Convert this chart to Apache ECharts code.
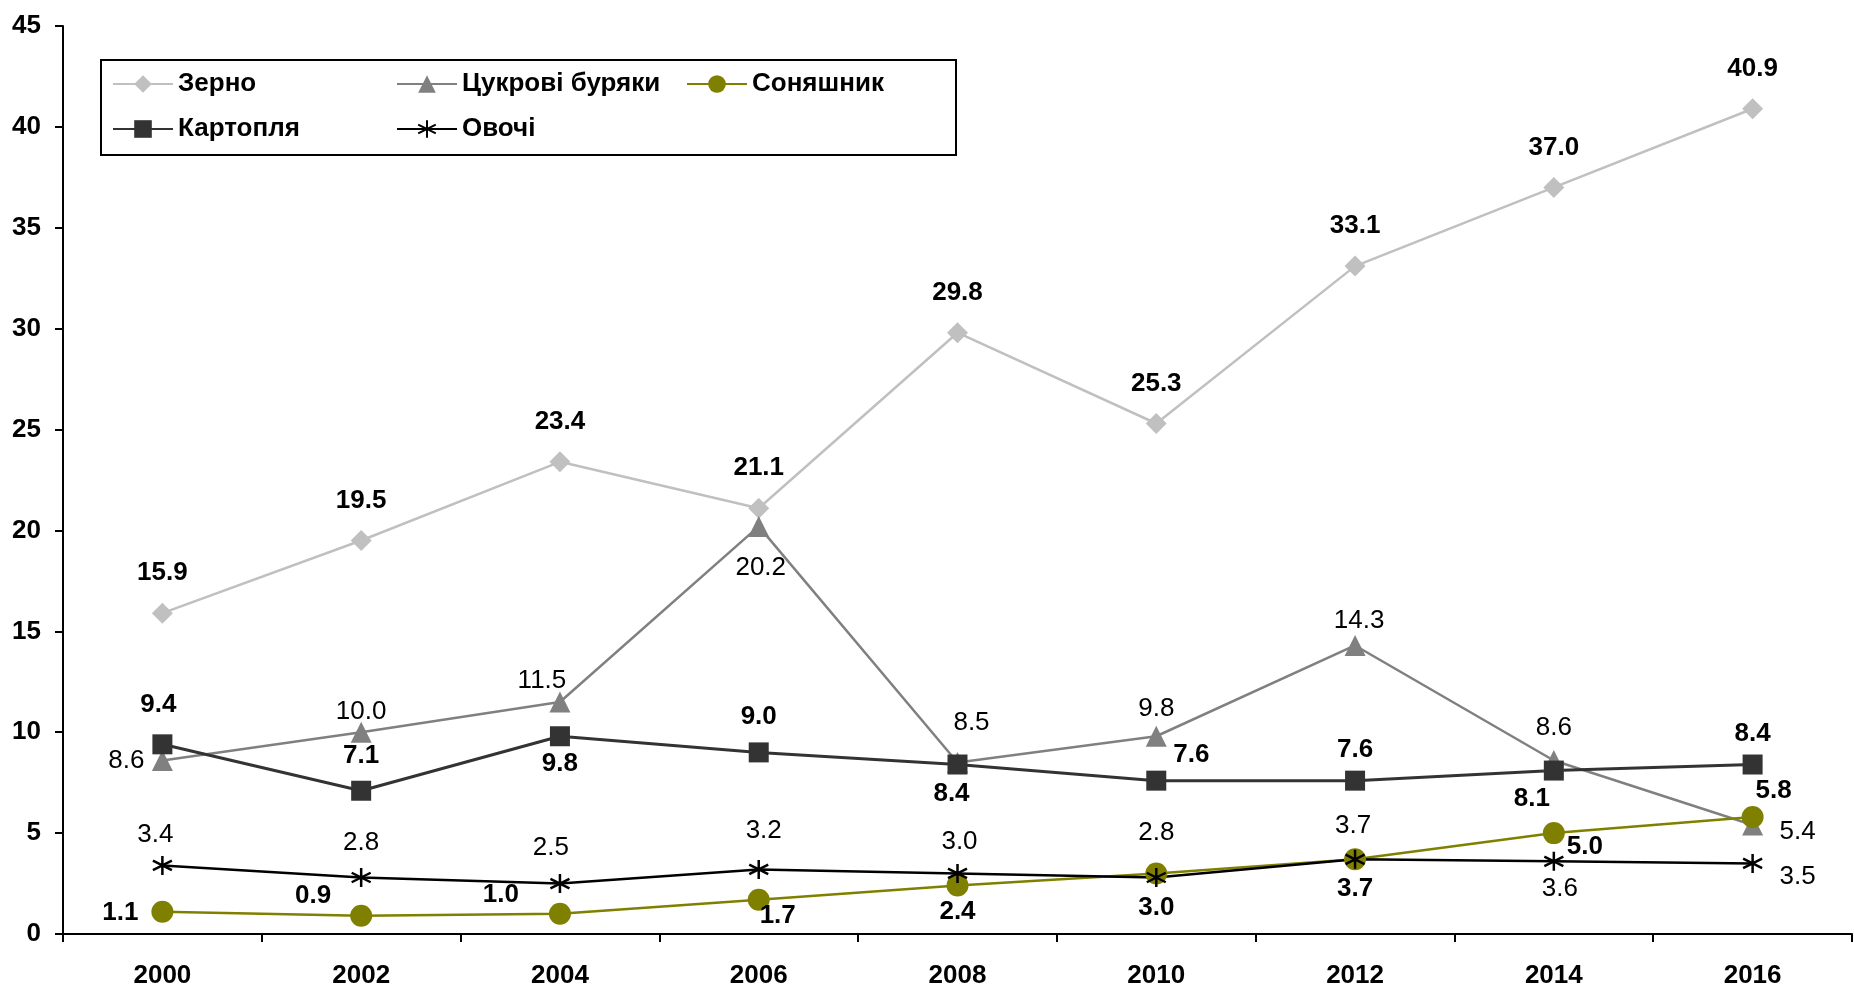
<!DOCTYPE html>
<html>
<head>
<meta charset="utf-8">
<script src="https://cdn.jsdelivr.net/npm/echarts@6/dist/echarts.min.js"></script>
<style>
html,body{margin:0;padding:0;background:#fff;}
#chart{width:1854px;height:989px;}
</style>
</head>
<body>
<div id="chart"></div>
<script>
// ---- data ----
const years = ['2000','2002','2004','2006','2008','2010','2012','2014','2016'];
const zerno = [15.9, 19.5, 23.4, 21.1, 29.8, 25.3, 33.1, 37.0, 40.9];
const buryaky = [8.6, 10.0, 11.5, 20.2, 8.5, 9.8, 14.3, 8.6, 5.4];
const sonyashnyk = [1.1, 0.9, 1.0, 1.7, 2.4, 3.0, 3.7, 5.0, 5.8];
const kartoplya = [9.4, 7.1, 9.8, 9.0, 8.4, 7.6, 7.6, 8.1, 8.4];
const ovochi = [3.4, 2.8, 2.5, 3.2, 3.0, 2.8, 3.7, 3.6, 3.5];
const names = ['Зерно', 'Цукрові буряки', 'Соняшник', 'Картопля', 'Овочі'];

// ---- label placement (styling) ----
const offZerno = [[0,-40],[0,-40],[0,-40],[0,-40],[0,-40],[0,-40],[0,-40],[0,-40],[0,-40]];
const offBur = [[-36,0],[0,-20],[-18,-21],[2,41],[14,-40],[0,-27],[4,-25],[0,-33],[45,7]];
const offSon = [[-42,1],[-48,-20],[-59,-19],[19,16],[0,26],[0,34],[0,29],[31,14],[21,-26]];
const offKar = [[-4,-40],[0,-35],[0,28],[0,-36],[-6,29],[35,-26],[0,-31],[-22,28],[0,-31]];
const offOvo = [[-7,-31],[0,-35],[-9,-36],[5,-39],[2,-32],[0,-45],[-2,-34],[6,27],[45,13]];

const FONT = 'Liberation Sans, Arial, sans-serif';
const FS = 26;
const asterisk = 'path://M5,0 L5,10 M0.7,2.5 L9.3,7.5 M0.7,7.5 L9.3,2.5';

function mk(vals, offs){
  return vals.map((v,i)=>({value:v, label:{offset:offs[i]}}));
}
function series(name, vals, offs, color, symbol, size, bold, lw, extra){
  return Object.assign({
    name: name, type:'line', data: mk(vals, offs),
    symbol: symbol, symbolSize: size,
    lineStyle:{color:color, width:lw},
    itemStyle:{color:color},
    label:{show:true, position:'inside', color:'#000', fontFamily:FONT, fontSize:FS,
      fontWeight: bold ? 'bold' : 'normal',
      formatter: p => p.value.toFixed(1)},
    emphasis:{disabled:true}, animation:false
  }, extra||{});
}

const legendBase = {
  orient:'horizontal', itemWidth:60, itemHeight:22, itemGap:0,
  textStyle:{fontFamily:FONT, fontSize:FS, fontWeight:'bold', color:'#000'},
  padding:0
};

const chart = echarts.init(document.getElementById('chart'));
chart.setOption({
  backgroundColor:'#fff',
  animation:false,
  grid:{left:63, right:2, top:26, bottom:54, containLabel:false},
  xAxis:{type:'category', data:years, boundaryGap:true,
    axisLine:{lineStyle:{color:'#000', width:2}},
    axisTick:{show:true, length:8, lineStyle:{color:'#000', width:2}},
    axisLabel:{fontFamily:FONT, fontSize:FS, fontWeight:'bold', color:'#000', margin:29},
    splitLine:{show:false}},
  yAxis:{type:'value', min:0, max:45, interval:5,
    axisLine:{show:true, lineStyle:{color:'#000', width:2}},
    axisTick:{show:true, length:8, lineStyle:{color:'#000', width:2}},
    axisLabel:{fontFamily:FONT, fontSize:FS, fontWeight:'bold', color:'#000', margin:22},
    splitLine:{show:false}},
  graphic:[{type:'rect', left:100, top:59, shape:{width:855, height:95},
    style:{fill:'#fff', stroke:'#000', lineWidth:2}, z:-1}],
  legend:[
    Object.assign({}, legendBase, {data:[names[0]], left:112, top:71}),
    Object.assign({}, legendBase, {data:[names[1]], left:396, top:71}),
    Object.assign({}, legendBase, {data:[names[2]], left:686, top:71}),
    Object.assign({}, legendBase, {data:[names[3]], left:112, top:116}),
    Object.assign({}, legendBase, {data:[names[4]], left:396, top:116})
  ],
  series:[
    series(names[0], zerno, offZerno, '#C0C0C0', 'diamond', 21, true, 2.5),
    series(names[1], buryaky, offBur, '#808080', 'triangle', 21, false, 2.5),
    series(names[2], sonyashnyk, offSon, '#808000', 'circle', 22, true, 2.5),
    series(names[3], kartoplya, offKar, '#333333', 'rect', 20, true, 3),
    series(names[4], ovochi, offOvo, '#000000', asterisk, 19, false, 2.5,
      {itemStyle:{color:'none', borderColor:'#000', borderWidth:2.5}})
  ]
});
</script>
</body>
</html>
